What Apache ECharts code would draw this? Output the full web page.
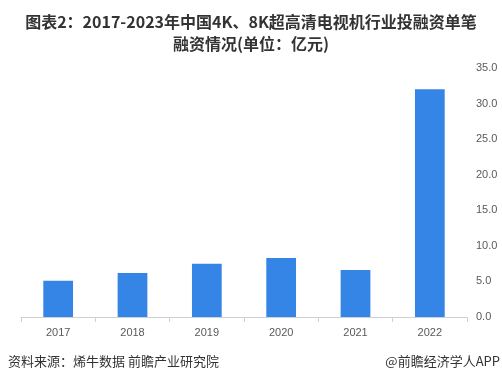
<!DOCTYPE html>
<html><head><meta charset="utf-8">
<script src="https://cdn.jsdelivr.net/npm/echarts@6/dist/echarts.min.js"></script>
<style>html,body{margin:0;padding:0;background:#fff}#c{width:502px;height:382px}</style>
</head><body><div id="c"></div>
<script>
const categories = ['2017','2018','2019','2020','2021','2022'];
const values = [5.1, 6.2, 7.5, 8.3, 6.6, 32.0];
const titleLines = ['图表2：2017-2023年中国4K、8K超高清电视机行业投融资单笔', '融资情况(单位：亿元)'];
const sourceText = '资料来源：烯牛数据 前瞻产业研究院';
const brandText = '@前瞻经济学人APP';

const chart = echarts.init(document.getElementById('c'));
chart.setOption({
  animation: false,
  title: [{
    text: titleLines.join('\n'), left: 'center', top: 6,
    textStyle: {fontFamily: 'Noto Sans CJK SC', fontSize: 16, fontWeight: 'bold', color: '#333', lineHeight: 22}
  }],
  graphic: [
    {type: 'text', left: 8, top: 355, style: {text: sourceText, font: '13px "Noto Sans CJK SC"', fill: '#333'}},
    {type: 'text', right: 2, top: 355, style: {text: brandText, font: '13px "Noto Sans CJK SC"', fill: '#333'}}
  ],
  grid: {left: 21, right: 35, top: 68, bottom: 65},
  xAxis: {
    type: 'category', data: categories,
    axisLine: {lineStyle: {color: '#d0d0d0'}},
    axisTick: {show: true, lineStyle: {color: '#d0d0d0'}, length: 5},
    axisLabel: {color: '#595959', fontSize: 11, fontFamily: 'Liberation Sans', margin: 10}
  },
  yAxis: {
    type: 'value', position: 'right', min: 0, max: 35, interval: 5,
    axisLine: {show: false}, axisTick: {show: false}, splitLine: {show: false},
    axisLabel: {color: '#595959', fontSize: 11, fontFamily: 'Liberation Sans', margin: 9,
      formatter: v => v.toFixed(1)}
  },
  series: [{
    type: 'bar', data: values, barWidth: '40%',
    itemStyle: {color: '#3585E6'}
  }]
});
</script></body></html>
